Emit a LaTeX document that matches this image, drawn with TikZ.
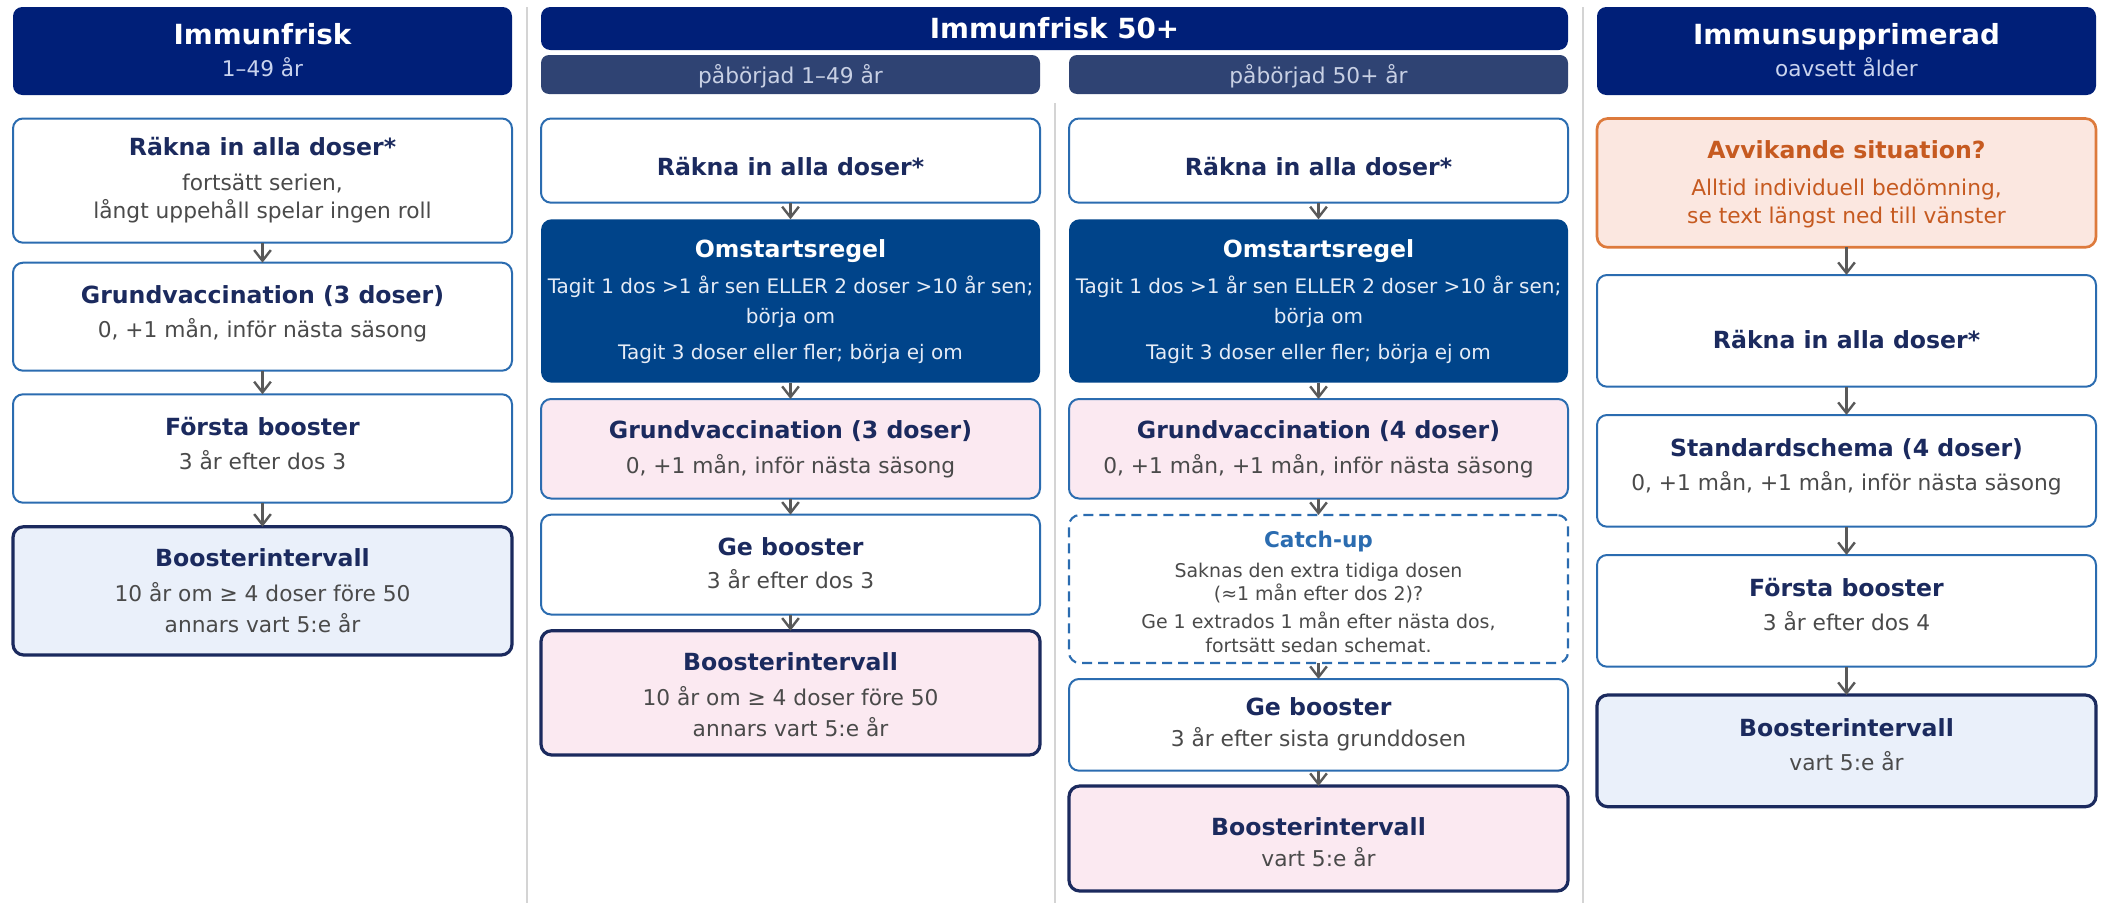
\documentclass[tikz,border=0pt]{standalone}
\usepackage{fontspec}
\setmainfont{DejaVu Sans}
\usetikzlibrary{arrows.meta,fit}
\definecolor{hdr}{HTML}{001F78}
\definecolor{hdrsub}{HTML}{C9D3EE}
\definecolor{subhdr}{HTML}{2F4373}
\definecolor{subtxt}{HTML}{C8D0E4}
\definecolor{bluebord}{HTML}{2B6CB0}
\definecolor{navy}{HTML}{1B2A5E}
\definecolor{graytext}{HTML}{4A4A4A}
\definecolor{omfill}{HTML}{00448A}
\definecolor{omtxt}{HTML}{E6ECF6}
\definecolor{pinkfill}{HTML}{FBE9F1}
\definecolor{lbfill}{HTML}{EAF0FA}
\definecolor{orfill}{HTML}{FBE7E0}
\definecolor{orbord}{HTML}{DD7A3C}
\definecolor{ortxt}{HTML}{C65A20}
\definecolor{arrgray}{HTML}{595959}
\definecolor{sepgray}{HTML}{D4D4D4}
\begin{document}
\begin{tikzpicture}[x=0.75pt,y=-0.75pt,
  base/.style={inner sep=0pt, outer sep=0pt},
  hdrbox/.style={base, fill=hdr, rounded corners=7pt},
  subbox/.style={base, fill=subhdr, rounded corners=6pt},
  box/.style={base, draw=bluebord, line width=1.5pt, fill=white, rounded corners=7.5pt},
  pinkbox/.style={box, fill=pinkfill},
  ombox/.style={base, fill=omfill, rounded corners=8pt},
  intbox/.style={base, draw=navy, line width=2.4pt, rounded corners=8pt},
  orbox/.style={base, draw=orbord, fill=orfill, line width=2pt, rounded corners=8pt},
  cubox/.style={base, draw=bluebord, line width=1.6pt, dash pattern=on 7.5pt off 4.5pt, fill=white, rounded corners=8pt},
  htl/.style={anchor=base, inner sep=0pt, text=white, font=\fontsize{20.8}{24}\selectfont\bfseries},
  hsub/.style={anchor=base, inner sep=0pt, text=hdrsub, font=\fontsize{16.2}{19}\selectfont},
  stx/.style={anchor=base, inner sep=0pt, text=subtxt, font=\fontsize{16.3}{19}\selectfont},
  ttl/.style={anchor=base, inner sep=0pt, text=navy, font=\fontsize{17.7}{21}\selectfont\bfseries},
  bdy/.style={anchor=base, inner sep=0pt, text=graytext, font=\fontsize{16.3}{19}\selectfont},
  omt/.style={anchor=base, inner sep=0pt, text=white, font=\fontsize{17.7}{21}\selectfont\bfseries},
  omb/.style={anchor=base, inner sep=0pt, text=omtxt, font=\fontsize{15}{18}\selectfont},
  ort/.style={anchor=base, inner sep=0pt, text=ortxt, font=\fontsize{17.7}{21}\selectfont\bfseries},
  orb/.style={anchor=base, inner sep=0pt, text=ortxt, font=\fontsize{16.3}{19}\selectfont},
  cut/.style={anchor=base, inner sep=0pt, text=bluebord, font=\fontsize{16.2}{19}\selectfont\bfseries},
  cub/.style={anchor=base, inner sep=0pt, text=graytext, font=\fontsize{14.2}{17}\selectfont},
  arr/.style={draw=arrgray, line width=1.8pt, -{Straight Barb[length=8pt,width=12.5pt]}},
  sep/.style={draw=sepgray, line width=1.5pt}
]
\useasboundingbox (0,0) rectangle (2107,903);

% separators
\draw[sep] (526.5,7) -- (526.5,903);
\draw[sep] (1054.5,103) -- (1054.5,903);
\draw[sep] (1582.5,7) -- (1582.5,903);

% ---------------- Column 1 ----------------
\node[hdrbox, fit={(13,7) (512,95)}] (h1) {};
\node[htl] (h1t) at (262.5,44.5) {Immunfrisk};
\node[hsub] (h1s) at (262.5,76.7) {1–49 år};

\node[box, fit={(13,118.5) (512,242.7)}] (c1a) {};
\node[ttl] (c1at) at (262.5,155) {Räkna in alla doser*};
\node[bdy] (c1ab) at (262.5,190) {fortsätt serien,};
\node[bdy] (c1ac) at (262.5,218.3) {långt uppehåll spelar ingen roll};

\node[box, fit={(13,262.7) (512,370.7)}] (c1b) {};
\node[ttl] (c1bt) at (262.5,303.3) {Grundvaccination (3 doser)};
\node[bdy] (c1bb) at (262.5,337.3) {0, +1 mån, inför nästa säsong};

\node[box, fit={(13,394.3) (512,502.7)}] (c1c) {};
\node[ttl] (c1ct) at (262.5,435) {Första booster};
\node[bdy] (c1cb) at (262.5,469.3) {3 år efter dos 3};

\node[intbox, fill=lbfill, fit={(13,526.7) (512,655)}] (c1d) {};
\node[ttl] (c1dt) at (262.5,566.7) {Boosterintervall};
\node[bdy] (c1db) at (262.5,601.7) {10 år om ≥ 4 doser före 50};
\node[bdy] (c1dc) at (262.5,632.7) {annars vart 5:e år};

\draw[arr] (c1a.south) -- (c1b.north);
\draw[arr] (c1b.south) -- (c1c.north);
\draw[arr] (c1c.south) -- (c1d.north);

% ---------------- Column 2 header ----------------
\node[hdrbox, fit={(541,7) (1568,50)}] (h2) {};
\node[htl] (h2t) at (1054.5,38) {Immunfrisk 50+};
\node[subbox, fit={(541,55) (1040,94)}] (s2l) {};
\node[stx] (s2lt) at (790.5,83) {påbörjad 1–49 år};
\node[subbox, fit={(1069,55) (1568,94)}] (s2r) {};
\node[stx] (s2rt) at (1318.5,83) {påbörjad 50+ år};

% ---------------- Column 2 left ----------------
\node[box, fit={(541,118.5) (1040,202.7)}] (c2a) {};
\node[ttl] (c2at) at (790.5,175.5) {Räkna in alla doser*};

\node[ombox, fit={(541,219.3) (1040,382.7)}] (c2b) {};
\node[omt] (c2bt) at (790.5,257.5) {Omstartsregel};
\node[omb] (c2bb) at (790.5,293) {Tagit 1 dos >1 år sen ELLER 2 doser >10 år sen;};
\node[omb] (c2bc) at (790.5,323) {börja om};
\node[omb] (c2bd) at (790.5,359) {Tagit 3 doser eller fler; börja ej om};

\node[pinkbox, fit={(541,399) (1040,498.5)}] (c2c) {};
\node[ttl] (c2ct) at (790.5,438) {Grundvaccination (3 doser)};
\node[bdy] (c2cb) at (790.5,473) {0, +1 mån, inför nästa säsong};

\node[box, fit={(541,514.7) (1040,614.5)}] (c2d) {};
\node[ttl] (c2dt) at (790.5,555) {Ge booster};
\node[bdy] (c2db) at (790.5,588.5) {3 år efter dos 3};

\node[intbox, fill=pinkfill, fit={(541,630.7) (1040,755)}] (c2e) {};
\node[ttl] (c2et) at (790.5,670) {Boosterintervall};
\node[bdy] (c2eb) at (790.5,705) {10 år om ≥ 4 doser före 50};
\node[bdy] (c2ec) at (790.5,736.7) {annars vart 5:e år};

\draw[arr] (c2a.south) -- (c2b.north);
\draw[arr] (c2b.south) -- (c2c.north);
\draw[arr] (c2c.south) -- (c2d.north);
\draw[arr] (c2d.south) -- (c2e.north);

% ---------------- Column 2 right ----------------
\node[box, fit={(1069,118.5) (1568,202.7)}] (c3a) {};
\node[ttl] (c3at) at (1318.5,175.5) {Räkna in alla doser*};

\node[ombox, fit={(1069,219.3) (1568,382.7)}] (c3b) {};
\node[omt] (c3bt) at (1318.5,257.5) {Omstartsregel};
\node[omb] (c3bb) at (1318.5,293) {Tagit 1 dos >1 år sen ELLER 2 doser >10 år sen;};
\node[omb] (c3bc) at (1318.5,323) {börja om};
\node[omb] (c3bd) at (1318.5,359) {Tagit 3 doser eller fler; börja ej om};

\node[pinkbox, fit={(1069,399) (1568,498.5)}] (c3c) {};
\node[ttl] (c3ct) at (1318.5,438) {Grundvaccination (4 doser)};
\node[bdy] (c3cb) at (1318.5,473) {0, +1 mån, +1 mån, inför nästa säsong};

\node[cubox, fit={(1069,515) (1568,663)}] (c3d) {};
\node[cut] (c3dt) at (1318.5,547) {Catch-up};
\node[cub] (c3db) at (1318.5,577) {Saknas den extra tidiga dosen};
\node[cub] (c3dc) at (1318.5,600.7) {(≈1 mån efter dos 2)?};
\node[cub] (c3dd) at (1318.5,628.3) {Ge 1 extrados 1 mån efter nästa dos,};
\node[cub] (c3de) at (1318.5,652.7) {fortsätt sedan schemat.};

\node[box, fit={(1069,679) (1568,770.7)}] (c3e) {};
\node[ttl] (c3et) at (1318.5,715) {Ge booster};
\node[bdy] (c3eb) at (1318.5,746.7) {3 år efter sista grunddosen};

\node[intbox, fill=pinkfill, fit={(1069,786) (1568,891)}] (c3f) {};
\node[ttl] (c3ft) at (1318.5,835) {Boosterintervall};
\node[bdy] (c3fb) at (1318.5,866.7) {vart 5:e år};

\draw[arr] (c3a.south) -- (c3b.north);
\draw[arr] (c3b.south) -- (c3c.north);
\draw[arr] (c3c.south) -- (c3d.north);
\draw[arr] (c3d.south) -- (c3e.north);
\draw[arr] (c3e.south) -- (c3f.north);

% ---------------- Column 4 ----------------
\node[hdrbox, fit={(1597,7) (2096,95)}] (h4) {};
\node[htl] (h4t) at (1846.5,44.5) {Immunsupprimerad};
\node[hsub] (h4s) at (1846.5,76.7) {oavsett ålder};

\node[orbox, fit={(1597,118.5) (2096,247.3)}] (c4a) {};
\node[ort] (c4at) at (1846.5,158.3) {Avvikande situation?};
\node[orb] (c4ab) at (1846.5,195) {Alltid individuell bedömning,};
\node[orb] (c4ac) at (1846.5,223.3) {se text längst ned till vänster};

\node[box, fit={(1597,275) (2096,386.7)}] (c4b) {};
\node[ttl] (c4bt) at (1846.5,348) {Räkna in alla doser*};

\node[box, fit={(1597,415) (2096,526.7)}] (c4c) {};
\node[ttl] (c4ct) at (1846.5,456.7) {Standardschema (4 doser)};
\node[bdy] (c4cb) at (1846.5,490.7) {0, +1 mån, +1 mån, inför nästa säsong};

\node[box, fit={(1597,555) (2096,666.7)}] (c4d) {};
\node[ttl] (c4dt) at (1846.5,596.7) {Första booster};
\node[bdy] (c4db) at (1846.5,630.7) {3 år efter dos 4};

\node[intbox, fill=lbfill, fit={(1597,695) (2096,806.7)}] (c4e) {};
\node[ttl] (c4et) at (1846.5,736.7) {Boosterintervall};
\node[bdy] (c4eb) at (1846.5,770) {vart 5:e år};

\draw[arr] (c4a.south) -- (c4b.north);
\draw[arr] (c4b.south) -- (c4c.north);
\draw[arr] (c4c.south) -- (c4d.north);
\draw[arr] (c4d.south) -- (c4e.north);
\end{tikzpicture}
\end{document}
